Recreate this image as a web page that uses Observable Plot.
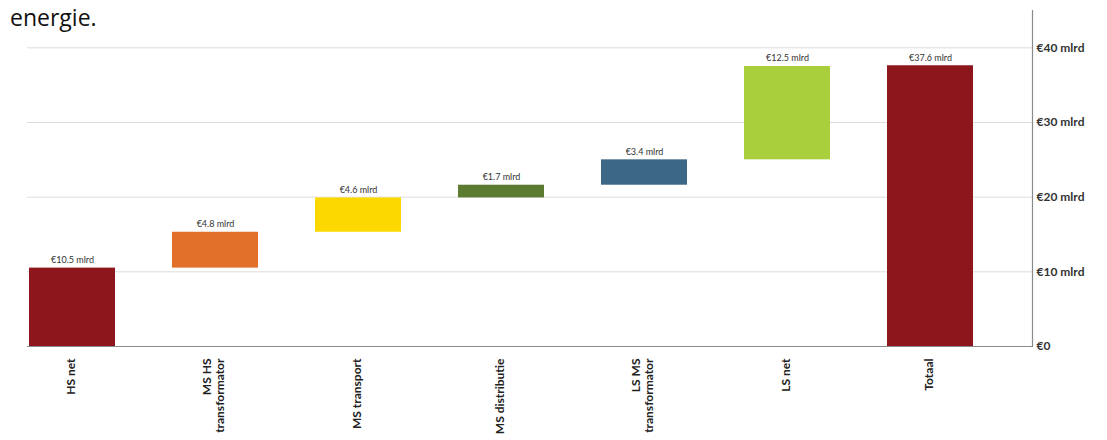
<!DOCTYPE html>
<html>
<head>
<meta charset="utf-8">
<script src="https://cdn.jsdelivr.net/npm/d3@7"></script>
<script src="https://cdn.jsdelivr.net/npm/@observablehq/plot@0.6"></script>
<style>
  html, body { margin: 0; padding: 0; background: #fff; }
  #wrap { position: relative; width: 1107px; height: 440px; overflow: hidden; }
  #title { position: absolute; left: 10px; top: 1px; font-family: "Open Sans", sans-serif; font-size: 23px; color: #111; }
  #chart { position: absolute; left: 0; top: 0; }
</style>
</head>
<body>
<div id="wrap">
  <div id="chart"></div>
  <div id="title">energie.</div>
</div>
<script>
const categories = ["HS net", "MS HS\ntransformator", "MS transport", "MS distributie", "LS MS\ntransformator", "LS net", "Totaal"];
const values = [10.5, 4.8, 4.6, 1.7, 3.4, 12.5, 37.6];
const valueLabels = ["€10.5 mlrd", "€4.8 mlrd", "€4.6 mlrd", "€1.7 mlrd", "€3.4 mlrd", "€12.5 mlrd", "€37.6 mlrd"];
const colors = ["#8c161c", "#e2702b", "#fdd800", "#5b7b31", "#3d6787", "#a9cf3c", "#8c161c"];
const yTicks = [0, 10, 20, 30, 40];
const yTickLabels = ["€0", "€10 mlrd", "€20 mlrd", "€30 mlrd", "€40 mlrd"];

// waterfall: running sum for steps, last bar is the total from zero
let run = 0;
const data = categories.map((c, i) => {
  const isTotal = i === categories.length - 1;
  const start = isTotal ? 0 : run;
  const end = isTotal ? values[i] : run + values[i];
  if (!isTotal) run = end;
  return {cat: c, start, end, label: valueLabels[i], color: colors[i]};
});

const chart = Plot.plot({
  width: 1107,
  height: 440,
  marginTop: 10,
  marginBottom: 94,
  marginLeft: 27,
  marginRight: 75,
  style: {fontFamily: "Lato, sans-serif", background: "transparent"},
  x: {domain: categories, range: [27, 975], paddingInner: 0.4, paddingOuter: 0, axis: null},
  y: {domain: [0, 45], axis: null},
  color: {type: "identity"},
  marks: [
    Plot.ruleY(yTicks.slice(1), {stroke: "#dcdcdc", strokeWidth: 1}),
    Plot.barY(data, {x: "cat", y1: "start", y2: "end", fill: "color"}),
    Plot.ruleY([0], {stroke: "#8a8a8a", strokeWidth: 1.2}),
    Plot.frame({anchor: "right", stroke: "#8a8a8a", strokeWidth: 1.2}),
    Plot.text(data, {x: "cat", y: "end", text: "label", dy: -8, fontSize: 9, fill: "#333"}),
    Plot.text(data, {x: "cat", y: 0, text: "cat", rotate: -90, textAnchor: "end", dy: 12, dx: -2, fontSize: 12, fontWeight: "bold", fill: "#222", lineHeight: 1.05}),
    Plot.text(yTicks, {x: null, y: d => d, frameAnchor: "right", text: (d, i) => yTickLabels[i], textAnchor: "start", dx: 4, fontSize: 12, fontWeight: "bold", fill: "#333"})
  ]
});
document.getElementById("chart").appendChild(chart);
</script>
</body>
</html>
